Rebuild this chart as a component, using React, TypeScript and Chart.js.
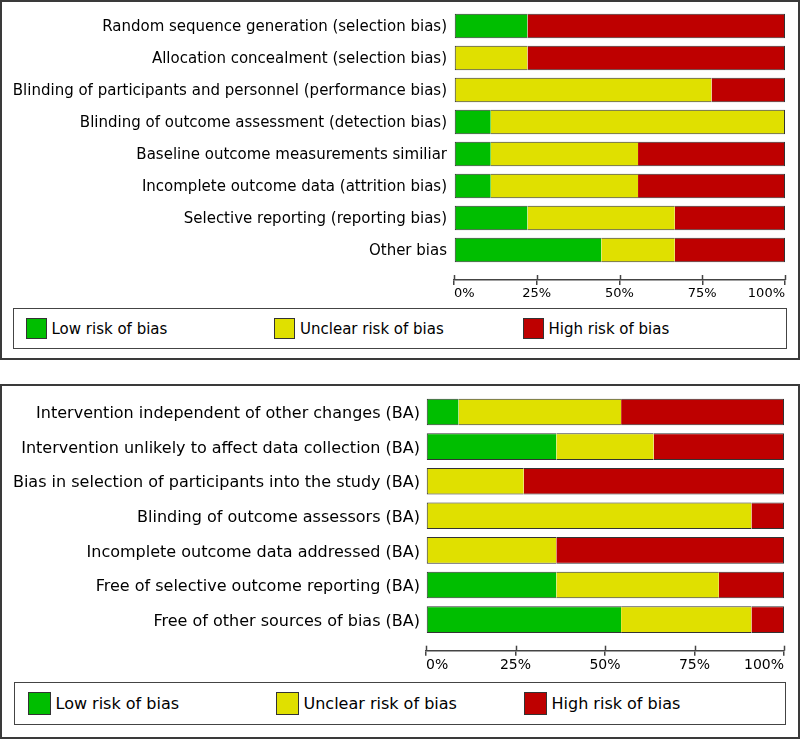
import React, { useEffect, useRef } from 'react';
import { Chart, registerables } from 'chart.js';

Chart.register(...registerables);

// ---------- data ----------
const topCategories = [
  'Random sequence generation (selection bias)',
  'Allocation concealment (selection bias)',
  'Blinding of participants and personnel (performance bias)',
  'Blinding of outcome assessment (detection bias)',
  'Baseline outcome measurements similiar',
  'Incomplete outcome data (attrition bias)',
  'Selective reporting (reporting bias)',
  'Other bias',
];
const topLow = [22.2, 0, 0, 11.1, 11.1, 11.1, 22.2, 44.5];
const topUnclear = [0, 22.2, 77.8, 88.9, 44.5, 44.5, 44.5, 22.2];
const topHigh = [77.8, 77.8, 22.2, 0, 44.4, 44.4, 33.3, 33.3];

const bottomCategories = [
  'Intervention independent of other changes (BA)',
  'Intervention unlikely to affect data collection (BA)',
  'Bias in selection of participants into the study (BA)',
  'Blinding of outcome assessors (BA)',
  'Incomplete outcome data addressed (BA)',
  'Free of selective outcome reporting (BA)',
  'Free of other sources of bias (BA)',
];
const bottomLow = [9.1, 36.4, 0, 0, 0, 36.4, 54.5];
const bottomUnclear = [45.4, 27.2, 27.3, 90.9, 36.4, 45.4, 36.4];
const bottomHigh = [45.5, 36.4, 72.7, 9.1, 63.6, 18.2, 9.1];

const seriesNames = ['Low risk of bias', 'Unclear risk of bias', 'High risk of bias'];
const seriesColors = ['#00BE00', '#E0E000', '#BE0000'];
const xTickValues = [0, 25, 50, 75, 100];

const FONT = "'DejaVu Sans', Verdana, sans-serif";
const AXIS_COLOR = '#444444';

const crossTicks = {
  id: 'crossTicks',
  afterDraw(chart: any, _args: any, opts: any) {
    const s = chart.scales.x;
    const ctx = chart.ctx;
    ctx.save();
    ctx.strokeStyle = opts.color;
    ctx.lineWidth = opts.width;
    s.ticks.forEach((t: any) => {
      const px = Math.round(s.getPixelForValue(t.value)) + 0.5;
      ctx.beginPath();
      ctx.moveTo(px, s.top - opts.length);
      ctx.lineTo(px, s.top);
      ctx.stroke();
    });
    ctx.restore();
  },
};

type ChartProps = {
  cats: string[];
  series: number[][];
  top: number;
  width: number;
  height: number;
  plotLeft: number;
  plotRight: number;
  plotTop: number;
  axisY: number;
  gapPx: number;
  labelFont: number;
  tickFont: number;
  labelPad: number;
  labelShift: number;
};

function RiskChart(p: ChartProps) {
  const ref = useRef<HTMLCanvasElement | null>(null);
  useEffect(() => {
    if (!ref.current) return;
    const n = p.cats.length;
    const pitch = (p.axisY - p.plotTop - p.gapPx) / n;
    const gapUnits = p.gapPx / pitch;
    const datasets = p.series.map((vals, d) => ({
      label: seriesNames[d],
      data: vals.map((v, i) => ({ x: v, y: i })),
      backgroundColor: seriesColors[d],
      borderColor: '#333333',
      borderSkipped: false as const,
      categoryPercentage: 0.77,
      barPercentage: 1,
      borderWidth: (ctx: any) => {
        const i = ctx.dataIndex;
        const row = p.series.map((s) => s[i]);
        if (!row[d]) return 0;
        let first = -1;
        let last = -1;
        row.forEach((v, k) => {
          if (v > 0) {
            if (first < 0) first = k;
            last = k;
          }
        });
        return { top: 1, bottom: 1, left: d === first ? 1 : 0, right: d === last ? 1 : 0 };
      },
    }));
    const chart = new Chart(ref.current, {
      type: 'bar',
      data: { datasets },
      plugins: [crossTicks],
      options: {
        indexAxis: 'y',
        responsive: false,
        animation: false,
        layout: { padding: { top: p.plotTop, right: p.width - p.plotRight, left: 0, bottom: 0 } },
        plugins: {
          legend: { display: false },
          tooltip: { enabled: false },
          crossTicks: { color: AXIS_COLOR, width: 1.5, length: 5 },
        } as any,
        scales: {
          x: {
            type: 'linear',
            stacked: true,
            min: 0,
            max: 100,
            afterBuildTicks: (s: any) => {
              s.ticks = xTickValues.map((v) => ({ value: v }));
            },
            afterFit: (s: any) => {
              s.height = p.height - p.axisY;
              s.paddingLeft = 0;
              s.paddingRight = 0;
            },
            ticks: {
              callback: (v: any) => v + '%',
              align: 'inner',
              autoSkip: false,
              maxRotation: 0,
              padding: 1,
              color: '#000',
              font: { family: FONT, size: p.tickFont },
            },
            grid: {
              display: true,
              drawOnChartArea: false,
              drawTicks: true,
              tickLength: 5,
              color: AXIS_COLOR,
              lineWidth: 1.5,
            },
            border: { display: true, color: AXIS_COLOR, width: 1.5 },
          },
          y: {
            type: 'linear',
            stacked: true,
            reverse: true,
            offset: false,
            min: -0.5,
            max: n - 0.5 + gapUnits,
            afterBuildTicks: (s: any) => {
              s.ticks = p.cats.map((_, i) => ({ value: i }));
            },
            afterFit: (s: any) => {
              s.width = p.plotLeft;
              s.paddingTop = 0;
              s.paddingBottom = 0;
            },
            ticks: {
              callback: (v: any) => p.cats[v as number],
              autoSkip: false,
              padding: p.labelPad,
              labelOffset: p.labelShift,
              color: '#000',
              font: { family: FONT, size: p.labelFont },
            },
            grid: { display: false, drawTicks: false, offset: false },
            border: { display: false },
          },
        },
      } as any,
    });
    return () => chart.destroy();
  }, []);
  return (
    <canvas
      ref={ref}
      width={p.width}
      height={p.height}
      style={{ position: 'absolute', left: 0, top: p.top, width: p.width, height: p.height, display: 'block' }}
    />
  );
}

function Legend(props: {
  left: number;
  top: number;
  width: number;
  height: number;
  square: number;
  fontSize: number;
  firstOffset: number;
  itemWidth: number;
}) {
  return (
    <div
      style={{
        position: 'absolute',
        left: props.left,
        top: props.top,
        width: props.width,
        height: props.height,
        boxSizing: 'border-box',
        border: '1.5px solid #444',
        background: '#fff',
      }}
    >
      {seriesNames.map((name, k) => (
        <div
          key={name}
          style={{
            position: 'absolute',
            left: props.firstOffset - 1.5 + k * props.itemWidth,
            top: 0,
            bottom: 0,
            display: 'flex',
            alignItems: 'center',
            whiteSpace: 'nowrap',
            fontFamily: FONT,
            fontSize: props.fontSize,
            color: '#000',
          }}
        >
          <span
            style={{
              display: 'inline-block',
              width: props.square,
              height: props.square,
              boxSizing: 'border-box',
              border: '1px solid #333',
              background: seriesColors[k],
              marginRight: 5,
            }}
          />
          <span>{name}</span>
        </div>
      ))}
    </div>
  );
}

export default function App() {
  return (
    <div style={{ position: 'absolute', left: 0, top: 0, width: 800, height: 739, background: '#fff' }}>
      <div
        style={{
          position: 'absolute',
          left: 0,
          top: 0,
          width: 800,
          height: 360,
          boxSizing: 'border-box',
          border: '2px solid #3a3a3a',
        }}
      />
      <div
        style={{
          position: 'absolute',
          left: 0,
          top: 384,
          width: 800,
          height: 355,
          boxSizing: 'border-box',
          border: '2px solid #3a3a3a',
        }}
      />
      <RiskChart
        cats={topCategories}
        series={[topLow, topUnclear, topHigh]}
        top={0}
        width={800}
        height={306}
        plotLeft={454}
        plotRight={785}
        plotTop={10}
        axisY={280}
        gapPx={14}
        labelFont={15}
        tickFont={13}
        labelPad={7}
        labelShift={1}
      />
      <Legend left={13} top={308} width={774} height={41} square={21} fontSize={15} firstOffset={13} itemWidth={248.5} />
      <RiskChart
        cats={bottomCategories}
        series={[bottomLow, bottomUnclear, bottomHigh]}
        top={384}
        width={800}
        height={296}
        plotLeft={426}
        plotRight={784}
        plotTop={10.7}
        axisY={266.7}
        gapPx={13.8}
        labelFont={16}
        tickFont={14}
        labelPad={6}
        labelShift={2}
      />
      <Legend left={14} top={682} width={772} height={43} square={23} fontSize={16} firstOffset={14} itemWidth={248} />
    </div>
  );
}
